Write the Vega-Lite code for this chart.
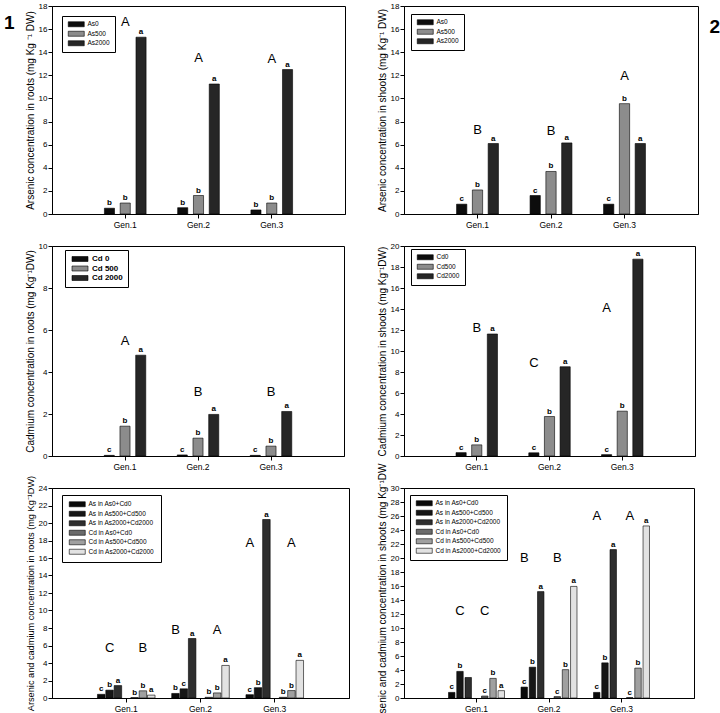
{
  "$schema": "https://vega.github.io/schema/vega-lite/v6.json",
  "padding": {"left": 3, "top": 1, "right": 0, "bottom": 0},
  "bounds": "flush",
  "columns": 2,
  "spacing": {"row": 32, "column": 55},
  "resolve": {"scale": {"color": "independent", "xOffset": "independent"}, "legend": {"color": "independent"}},
  "config": {
    "font": "Liberation Sans",
    "view": {"stroke": "black", "strokeWidth": 1},
    "axis": {"domainColor": "black", "tickColor": "black", "labelColor": "black", "titleColor": "black", "grid": false, "labelFontSize": 8, "titleFontSize": 10, "titleFontWeight": "normal", "tickSize": 4, "labelPadding": 1, "titlePadding": 3, "labelOverlap": false, "labelFont": "Liberation Sans", "titleFont": "Liberation Sans"},
    "legend": {"fillColor": "white", "strokeColor": "black", "strokeWidth": 1, "padding": 5, "symbolType": "M-3.2,-1H3.2V1H-3.2Z", "symbolSize": 25, "symbolStrokeColor": "black", "symbolStrokeWidth": 0.6, "symbolOffset": 6, "labelOffset": 8, "labelFontSize": 6.5, "rowPadding": 1.5, "labelFont": "Liberation Sans", "labelColor": "black"},
    "text": {"font": "Liberation Sans", "color": "black"}
  },
  "datasets": {
    "p1": [
      {"gen": "Gen.1", "series": "As0", "value": 0.5, "lbl": "b"},
      {"gen": "Gen.1", "series": "As500", "value": 0.95, "lbl": "b"},
      {"gen": "Gen.1", "series": "As2000", "value": 15.3, "lbl": "a"},
      {"gen": "Gen.2", "series": "As0", "value": 0.55, "lbl": "b"},
      {"gen": "Gen.2", "series": "As500", "value": 1.6, "lbl": "b"},
      {"gen": "Gen.2", "series": "As2000", "value": 11.25, "lbl": "a"},
      {"gen": "Gen.3", "series": "As0", "value": 0.35, "lbl": "b"},
      {"gen": "Gen.3", "series": "As500", "value": 0.95, "lbl": "b"},
      {"gen": "Gen.3", "series": "As2000", "value": 12.5, "lbl": "a"}
    ],
    "p1L": [
      {"gen": "Gen.1", "series": "As500", "value": 16.65, "L": "A"},
      {"gen": "Gen.2", "series": "As500", "value": 13.5, "L": "A"},
      {"gen": "Gen.3", "series": "As500", "value": 13.4, "L": "A"}
    ],
    "p2": [
      {"gen": "Gen.1", "series": "As0", "value": 0.85, "lbl": "c"},
      {"gen": "Gen.1", "series": "As500", "value": 2.08, "lbl": "b"},
      {"gen": "Gen.1", "series": "As2000", "value": 6.1, "lbl": "a"},
      {"gen": "Gen.2", "series": "As0", "value": 1.6, "lbl": "c"},
      {"gen": "Gen.2", "series": "As500", "value": 3.68, "lbl": "b"},
      {"gen": "Gen.2", "series": "As2000", "value": 6.15, "lbl": "a"},
      {"gen": "Gen.3", "series": "As0", "value": 0.85, "lbl": "c"},
      {"gen": "Gen.3", "series": "As500", "value": 9.55, "lbl": "b"},
      {"gen": "Gen.3", "series": "As2000", "value": 6.1, "lbl": "a"}
    ],
    "p2L": [
      {"gen": "Gen.1", "series": "As500", "value": 7.3, "L": "B"},
      {"gen": "Gen.2", "series": "As500", "value": 7.2, "L": "B"},
      {"gen": "Gen.3", "series": "As500", "value": 11.9, "L": "A"}
    ],
    "p3": [
      {"gen": "Gen.1", "series": "Cd 0", "value": 0.03, "lbl": "c"},
      {"gen": "Gen.1", "series": "Cd 500", "value": 1.42, "lbl": "b"},
      {"gen": "Gen.1", "series": "Cd 2000", "value": 4.8, "lbl": "a"},
      {"gen": "Gen.2", "series": "Cd 0", "value": 0.05, "lbl": "c"},
      {"gen": "Gen.2", "series": "Cd 500", "value": 0.85, "lbl": "b"},
      {"gen": "Gen.2", "series": "Cd 2000", "value": 1.98, "lbl": "a"},
      {"gen": "Gen.3", "series": "Cd 0", "value": 0.03, "lbl": "c"},
      {"gen": "Gen.3", "series": "Cd 500", "value": 0.47, "lbl": "b"},
      {"gen": "Gen.3", "series": "Cd 2000", "value": 2.12, "lbl": "a"}
    ],
    "p3L": [
      {"gen": "Gen.1", "series": "Cd 500", "value": 5.5, "L": "A"},
      {"gen": "Gen.2", "series": "Cd 500", "value": 3.05, "L": "B"},
      {"gen": "Gen.3", "series": "Cd 500", "value": 3.05, "L": "B"}
    ],
    "p4": [
      {"gen": "Gen.1", "series": "Cd0", "value": 0.32, "lbl": "c"},
      {"gen": "Gen.1", "series": "Cd500", "value": 1.06, "lbl": "b"},
      {"gen": "Gen.1", "series": "Cd2000", "value": 11.62, "lbl": "a"},
      {"gen": "Gen.2", "series": "Cd0", "value": 0.3, "lbl": "c"},
      {"gen": "Gen.2", "series": "Cd500", "value": 3.76, "lbl": "b"},
      {"gen": "Gen.2", "series": "Cd2000", "value": 8.5, "lbl": "a"},
      {"gen": "Gen.3", "series": "Cd0", "value": 0.13, "lbl": "c"},
      {"gen": "Gen.3", "series": "Cd500", "value": 4.27, "lbl": "b"},
      {"gen": "Gen.3", "series": "Cd2000", "value": 18.75, "lbl": "a"}
    ],
    "p4L": [
      {"gen": "Gen.1", "series": "Cd500", "value": 12.2, "L": "B"},
      {"gen": "Gen.2", "series": "Cd0", "value": 8.85, "L": "C"},
      {"gen": "Gen.3", "series": "Cd0", "value": 14.05, "L": "A"}
    ],
    "p5": [
      {"gen": "Gen.1", "series": "As in As0+Cd0", "value": 0.42, "lbl": "c"},
      {"gen": "Gen.1", "series": "As in As500+Cd500", "value": 0.9, "lbl": "b"},
      {"gen": "Gen.1", "series": "As in As2000+Cd2000", "value": 1.42, "lbl": "a"},
      {"gen": "Gen.1", "series": "Cd in As0+Cd0", "value": 0.05, "lbl": "b"},
      {"gen": "Gen.1", "series": "Cd in As500+Cd500", "value": 0.82, "lbl": "b"},
      {"gen": "Gen.1", "series": "Cd in As2000+Cd2000", "value": 0.33, "lbl": "a"},
      {"gen": "Gen.2", "series": "As in As0+Cd0", "value": 0.52, "lbl": "b"},
      {"gen": "Gen.2", "series": "As in As500+Cd500", "value": 1.05, "lbl": "c"},
      {"gen": "Gen.2", "series": "As in As2000+Cd2000", "value": 6.8, "lbl": "a"},
      {"gen": "Gen.2", "series": "Cd in As0+Cd0", "value": 0.08, "lbl": "b"},
      {"gen": "Gen.2", "series": "Cd in As500+Cd500", "value": 0.58, "lbl": "b"},
      {"gen": "Gen.2", "series": "Cd in As2000+Cd2000", "value": 3.72, "lbl": "a"},
      {"gen": "Gen.3", "series": "As in As0+Cd0", "value": 0.38, "lbl": "c"},
      {"gen": "Gen.3", "series": "As in As500+Cd500", "value": 1.18, "lbl": "b"},
      {"gen": "Gen.3", "series": "As in As2000+Cd2000", "value": 20.4, "lbl": "a"},
      {"gen": "Gen.3", "series": "Cd in As0+Cd0", "value": 0.08, "lbl": "b"},
      {"gen": "Gen.3", "series": "Cd in As500+Cd500", "value": 0.85, "lbl": "b"},
      {"gen": "Gen.3", "series": "Cd in As2000+Cd2000", "value": 4.3, "lbl": "a"}
    ],
    "p5L": [
      {"gen": "Gen.1", "series": "As in As500+Cd500", "value": 5.73, "L": "C"},
      {"gen": "Gen.1", "series": "Cd in As500+Cd500", "value": 5.73, "L": "B"},
      {"gen": "Gen.2", "series": "As in As0+Cd0", "value": 7.76, "L": "B"},
      {"gen": "Gen.2", "series": "Cd in As500+Cd500", "value": 7.76, "L": "A"},
      {"gen": "Gen.3", "series": "As in As0+Cd0", "value": 17.77, "L": "A"},
      {"gen": "Gen.3", "series": "Cd in As500+Cd500", "value": 17.77, "L": "A"}
    ],
    "p6": [
      {"gen": "Gen.1", "series": "As in As0+Cd0", "value": 0.8, "lbl": "c"},
      {"gen": "Gen.1", "series": "As in As500+Cd500", "value": 3.8, "lbl": "b"},
      {"gen": "Gen.1", "series": "As in As2000+Cd2000", "value": 2.93, "lbl": ""},
      {"gen": "Gen.1", "series": "Cd in As0+Cd0", "value": 0.28, "lbl": "c"},
      {"gen": "Gen.1", "series": "Cd in As500+Cd500", "value": 2.8, "lbl": "b"},
      {"gen": "Gen.1", "series": "Cd in As2000+Cd2000", "value": 1.05, "lbl": "a"},
      {"gen": "Gen.2", "series": "As in As0+Cd0", "value": 1.56, "lbl": "c"},
      {"gen": "Gen.2", "series": "As in As500+Cd500", "value": 4.4, "lbl": "b"},
      {"gen": "Gen.2", "series": "As in As2000+Cd2000", "value": 15.2, "lbl": "a"},
      {"gen": "Gen.2", "series": "Cd in As0+Cd0", "value": 0.2, "lbl": "c"},
      {"gen": "Gen.2", "series": "Cd in As500+Cd500", "value": 4.05, "lbl": "b"},
      {"gen": "Gen.2", "series": "Cd in As2000+Cd2000", "value": 15.94, "lbl": "a"},
      {"gen": "Gen.3", "series": "As in As0+Cd0", "value": 0.8, "lbl": "c"},
      {"gen": "Gen.3", "series": "As in As500+Cd500", "value": 5.02, "lbl": "b"},
      {"gen": "Gen.3", "series": "As in As2000+Cd2000", "value": 21.2, "lbl": "a"},
      {"gen": "Gen.3", "series": "Cd in As0+Cd0", "value": 0.06, "lbl": "c"},
      {"gen": "Gen.3", "series": "Cd in As500+Cd500", "value": 4.27, "lbl": "b"},
      {"gen": "Gen.3", "series": "Cd in As2000+Cd2000", "value": 24.58, "lbl": "a"}
    ],
    "p6L": [
      {"gen": "Gen.1", "series": "As in As500+Cd500", "value": 12.4, "L": "C"},
      {"gen": "Gen.1", "series": "Cd in As0+Cd0", "value": 12.4, "L": "C"},
      {"gen": "Gen.2", "series": "As in As0+Cd0", "value": 20.07, "L": "B"},
      {"gen": "Gen.2", "series": "Cd in As0+Cd0", "value": 20.07, "L": "B"},
      {"gen": "Gen.3", "series": "As in As0+Cd0", "value": 26.07, "L": "A"},
      {"gen": "Gen.3", "series": "Cd in As0+Cd0", "value": 26.07, "L": "A"}
    ]
  },
  "concat": [
    {
      "width": 293, "height": 208,
      "title": {"text": "1", "orient": "left", "anchor": "end", "angle": 0, "fontSize": 19, "fontWeight": "bold", "offset": 0, "frame": "group", "dy": 8},
      "layer": [
        {
          "data": {"name": "p1"},
          "mark": {"type": "bar", "stroke": "black", "strokeWidth": 0.6},
          "encoding": {
            "x": {"field": "gen", "type": "nominal", "scale": {"paddingInner": 0, "paddingOuter": 0.5}, "axis": {"title": null, "labelAngle": 0, "labelFontSize": 8.5, "labelPadding": 2}},
            "xOffset": {"field": "series", "type": "nominal", "scale": {"domain": ["As0", "As500", "As2000"], "paddingInner": 0.36, "paddingOuter": 1.2}},
            "y": {"field": "value", "type": "quantitative", "scale": {"domain": [0, 18], "nice": false}, "axis": {"title": "Arsenic concentration in roots (mg Kg ⁻¹ DW)", "values": [0, 2, 4, 6, 8, 10, 12, 14, 16, 18], "format": "d", "tickCount": 40, "labelOverlap": false}},
            "color": {"field": "series", "type": "nominal", "scale": {"domain": ["As0", "As500", "As2000"], "range": ["#0d0d0d", "#8c8c8c", "#262626"]}, "legend": {"title": null, "orient": "none", "legendX": 10, "legendY": 10}}
          }
        },
        {
          "data": {"name": "p1"},
          "mark": {"type": "text", "baseline": "bottom", "dy": -1, "fontSize": 8, "fontWeight": "bold"},
          "encoding": {
            "x": {"field": "gen", "type": "nominal"},
            "xOffset": {"field": "series", "type": "nominal"},
            "y": {"field": "value", "type": "quantitative"},
            "text": {"field": "lbl"}
          }
        },
        {
          "data": {"name": "p1L"},
          "mark": {"type": "text", "baseline": "middle", "fontSize": 13},
          "encoding": {
            "x": {"field": "gen", "type": "nominal"},
            "xOffset": {"field": "series", "type": "nominal"},
            "y": {"field": "value", "type": "quantitative"},
            "text": {"field": "L"}
          }
        }
      ]
    },
    {
      "width": 294, "height": 208,
      "title": {"text": "2", "orient": "right", "anchor": "start", "angle": 0, "fontSize": 19, "fontWeight": "bold", "offset": 1, "frame": "group", "dy": 12},
      "layer": [
        {
          "data": {"name": "p2"},
          "mark": {"type": "bar", "stroke": "black", "strokeWidth": 0.6},
          "encoding": {
            "x": {"field": "gen", "type": "nominal", "scale": {"paddingInner": 0, "paddingOuter": 0.5}, "axis": {"title": null, "labelAngle": 0, "labelFontSize": 8.5, "labelPadding": 2}},
            "xOffset": {"field": "series", "type": "nominal", "scale": {"domain": ["As0", "As500", "As2000"], "paddingInner": 0.35, "paddingOuter": 1.2}},
            "y": {"field": "value", "type": "quantitative", "scale": {"domain": [0, 18], "nice": false}, "axis": {"title": "Arsenic concentration in shoots (mg Kg⁻¹ DW)", "values": [0, 2, 4, 6, 8, 10, 12, 14, 16, 18], "format": "d", "tickCount": 40, "labelOverlap": false}},
            "color": {"field": "series", "type": "nominal", "scale": {"domain": ["As0", "As500", "As2000"], "range": ["#0d0d0d", "#8c8c8c", "#262626"]}, "legend": {"title": null, "orient": "none", "legendX": 7, "legendY": 8}}
          }
        },
        {
          "data": {"name": "p2"},
          "mark": {"type": "text", "baseline": "bottom", "dy": -1, "fontSize": 8, "fontWeight": "bold"},
          "encoding": {
            "x": {"field": "gen", "type": "nominal"},
            "xOffset": {"field": "series", "type": "nominal"},
            "y": {"field": "value", "type": "quantitative"},
            "text": {"field": "lbl"}
          }
        },
        {
          "data": {"name": "p2L"},
          "mark": {"type": "text", "baseline": "middle", "fontSize": 13},
          "encoding": {
            "x": {"field": "gen", "type": "nominal"},
            "xOffset": {"field": "series", "type": "nominal"},
            "y": {"field": "value", "type": "quantitative"},
            "text": {"field": "L"}
          }
        }
      ]
    },
    {
      "width": 292, "height": 210,
      "layer": [
        {
          "data": {"name": "p3"},
          "mark": {"type": "bar", "stroke": "black", "strokeWidth": 0.6},
          "encoding": {
            "x": {"field": "gen", "type": "nominal", "scale": {"paddingInner": 0, "paddingOuter": 0.5}, "axis": {"title": null, "labelAngle": 0, "labelFontSize": 8.5, "labelPadding": 2}},
            "xOffset": {"field": "series", "type": "nominal", "scale": {"domain": ["Cd 0", "Cd 500", "Cd 2000"], "paddingInner": 0.36, "paddingOuter": 1.2}},
            "y": {"field": "value", "type": "quantitative", "scale": {"domain": [0, 10], "nice": false}, "axis": {"title": "Cadmium concentration in roots (mg Kg⁻¹DW)", "values": [0, 2, 4, 6, 8, 10], "format": "d", "tickCount": 40, "labelOverlap": false}},
            "color": {"field": "series", "type": "nominal", "scale": {"domain": ["Cd 0", "Cd 500", "Cd 2000"], "range": ["#0d0d0d", "#8c8c8c", "#262626"]}, "legend": {"title": null, "orient": "none", "legendX": 13, "legendY": 4, "labelFontSize": 8, "labelFontWeight": "bold", "rowPadding": 1.5}}
          }
        },
        {
          "data": {"name": "p3"},
          "mark": {"type": "text", "baseline": "bottom", "dy": -1, "fontSize": 8, "fontWeight": "bold"},
          "encoding": {
            "x": {"field": "gen", "type": "nominal"},
            "xOffset": {"field": "series", "type": "nominal"},
            "y": {"field": "value", "type": "quantitative"},
            "text": {"field": "lbl"}
          }
        },
        {
          "data": {"name": "p3L"},
          "mark": {"type": "text", "baseline": "middle", "fontSize": 13},
          "encoding": {
            "x": {"field": "gen", "type": "nominal"},
            "xOffset": {"field": "series", "type": "nominal"},
            "y": {"field": "value", "type": "quantitative"},
            "text": {"field": "L"}
          }
        }
      ]
    },
    {
      "width": 291, "height": 210,
      "layer": [
        {
          "data": {"name": "p4"},
          "mark": {"type": "bar", "stroke": "black", "strokeWidth": 0.6},
          "encoding": {
            "x": {"field": "gen", "type": "nominal", "scale": {"paddingInner": 0, "paddingOuter": 0.5}, "axis": {"title": null, "labelAngle": 0, "labelFontSize": 8.5, "labelPadding": 2}},
            "xOffset": {"field": "series", "type": "nominal", "scale": {"domain": ["Cd0", "Cd500", "Cd2000"], "paddingInner": 0.35, "paddingOuter": 1.2}},
            "y": {"field": "value", "type": "quantitative", "scale": {"domain": [0, 20], "nice": false}, "axis": {"title": "Cadmium concentration in shoots (mg Kg⁻¹DW)", "values": [0, 2, 4, 6, 8, 10, 12, 14, 16, 18, 20], "format": "d", "tickCount": 40, "labelOverlap": false}},
            "color": {"field": "series", "type": "nominal", "scale": {"domain": ["Cd0", "Cd500", "Cd2000"], "range": ["#0d0d0d", "#8c8c8c", "#262626"]}, "legend": {"title": null, "orient": "none", "legendX": 7, "legendY": 3}}
          }
        },
        {
          "data": {"name": "p4"},
          "mark": {"type": "text", "baseline": "bottom", "dy": -1, "fontSize": 8, "fontWeight": "bold"},
          "encoding": {
            "x": {"field": "gen", "type": "nominal"},
            "xOffset": {"field": "series", "type": "nominal"},
            "y": {"field": "value", "type": "quantitative"},
            "text": {"field": "lbl"}
          }
        },
        {
          "data": {"name": "p4L"},
          "mark": {"type": "text", "baseline": "middle", "fontSize": 13},
          "encoding": {
            "x": {"field": "gen", "type": "nominal"},
            "xOffset": {"field": "series", "type": "nominal"},
            "y": {"field": "value", "type": "quantitative"},
            "text": {"field": "L"}
          }
        }
      ]
    },
    {
      "width": 297, "height": 210,
      "layer": [
        {
          "data": {"name": "p5"},
          "mark": {"type": "bar", "stroke": "black", "strokeWidth": 0.6},
          "encoding": {
            "x": {"field": "gen", "type": "nominal", "scale": {"paddingInner": 0, "paddingOuter": 0.5}, "axis": {"title": null, "labelAngle": 0, "labelFontSize": 8.5, "labelPadding": 2}},
            "xOffset": {"field": "series", "type": "nominal", "scale": {"domain": ["As in As0+Cd0", "As in As500+Cd500", "As in As2000+Cd2000", "gap", "Cd in As0+Cd0", "Cd in As500+Cd500", "Cd in As2000+Cd2000"], "paddingInner": 0.1, "paddingOuter": 2.49}},
            "y": {"field": "value", "type": "quantitative", "scale": {"domain": [0, 24], "nice": false}, "axis": {"title": "Arsenic and cadmium concentration in roots (mg Kg⁻¹DW)", "titleFontSize": 9.2, "values": [0, 2, 4, 6, 8, 10, 12, 14, 16, 18, 20, 22, 24], "format": "d", "tickCount": 40, "labelOverlap": false}},
            "color": {"field": "series", "type": "nominal", "scale": {"domain": ["As in As0+Cd0", "As in As500+Cd500", "As in As2000+Cd2000", "Cd in As0+Cd0", "Cd in As500+Cd500", "Cd in As2000+Cd2000"], "range": ["#0a0a0a", "#161616", "#2e2e2e", "#6b6b6b", "#a0a0a0", "#e2e2e2"]}, "legend": {"title": null, "orient": "none", "legendX": 10, "legendY": 7, "padding": 6}}
          }
        },
        {
          "data": {"name": "p5"},
          "mark": {"type": "text", "baseline": "bottom", "dy": -1, "fontSize": 8, "fontWeight": "bold"},
          "encoding": {
            "x": {"field": "gen", "type": "nominal"},
            "xOffset": {"field": "series", "type": "nominal"},
            "y": {"field": "value", "type": "quantitative"},
            "text": {"field": "lbl"}
          }
        },
        {
          "data": {"name": "p5L"},
          "mark": {"type": "text", "baseline": "middle", "fontSize": 13},
          "encoding": {
            "x": {"field": "gen", "type": "nominal"},
            "xOffset": {"field": "series", "type": "nominal"},
            "y": {"field": "value", "type": "quantitative"},
            "text": {"field": "L"}
          }
        }
      ]
    },
    {
      "width": 290, "height": 210,
      "layer": [
        {
          "data": {"name": "p6"},
          "mark": {"type": "bar", "stroke": "black", "strokeWidth": 0.6},
          "encoding": {
            "x": {"field": "gen", "type": "nominal", "scale": {"paddingInner": 0, "paddingOuter": 0.5}, "axis": {"title": null, "labelAngle": 0, "labelFontSize": 8.5, "labelPadding": 2}},
            "xOffset": {"field": "series", "type": "nominal", "scale": {"domain": ["As in As0+Cd0", "As in As500+Cd500", "As in As2000+Cd2000", "gap", "Cd in As0+Cd0", "Cd in As500+Cd500", "Cd in As2000+Cd2000"], "paddingInner": 0.22, "paddingOuter": 1.58}},
            "y": {"field": "value", "type": "quantitative", "scale": {"domain": [0, 30], "nice": false}, "axis": {"title": "Arsenic and cadmium concentration in shoots (mg Kg⁻¹DW", "values": [0, 2, 4, 6, 8, 10, 12, 14, 16, 18, 20, 22, 24, 26, 28, 30], "format": "d", "tickCount": 40, "labelOverlap": false}},
            "color": {"field": "series", "type": "nominal", "scale": {"domain": ["As in As0+Cd0", "As in As500+Cd500", "As in As2000+Cd2000", "Cd in As0+Cd0", "Cd in As500+Cd500", "Cd in As2000+Cd2000"], "range": ["#0a0a0a", "#161616", "#2e2e2e", "#6b6b6b", "#a0a0a0", "#e2e2e2"]}, "legend": {"title": null, "orient": "none", "legendX": 6, "legendY": 7}}
          }
        },
        {
          "data": {"name": "p6"},
          "mark": {"type": "text", "baseline": "bottom", "dy": -1, "fontSize": 8, "fontWeight": "bold"},
          "encoding": {
            "x": {"field": "gen", "type": "nominal"},
            "xOffset": {"field": "series", "type": "nominal"},
            "y": {"field": "value", "type": "quantitative"},
            "text": {"field": "lbl"}
          }
        },
        {
          "data": {"name": "p6L"},
          "mark": {"type": "text", "baseline": "middle", "fontSize": 13},
          "encoding": {
            "x": {"field": "gen", "type": "nominal"},
            "xOffset": {"field": "series", "type": "nominal"},
            "y": {"field": "value", "type": "quantitative"},
            "text": {"field": "L"}
          }
        }
      ]
    }
  ]
}
